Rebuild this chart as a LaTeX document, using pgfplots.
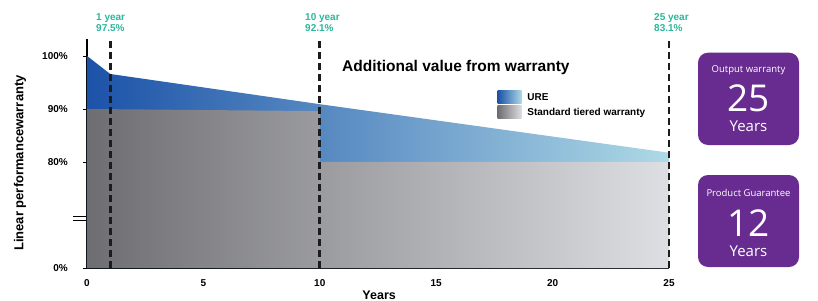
\documentclass[border=0pt]{standalone}
\usepackage{fontspec}
\setmainfont{Liberation Sans}
\newfontfamily\boxfont{Open Sans}
\usepackage{pgfplots}
\pgfplotsset{compat=1.18}

\definecolor{ureL}{RGB}{28,82,168}
\definecolor{ureR}{RGB}{174,217,230}
\definecolor{grL}{RGB}{110,110,114}
\definecolor{grR}{RGB}{222,223,226}
\definecolor{tealc}{RGB}{44,182,155}
\definecolor{purp}{RGB}{104,44,145}
\definecolor{dashc}{RGB}{28,28,28}

\begin{document}
\begin{tikzpicture}
\useasboundingbox (-87pt,-32pt) rectangle (731pt,268pt);
\begin{axis}[
 at={(0pt,0pt)}, anchor=south west,
 scale only axis, width=582pt, height=229pt,
 xmin=0, xmax=25, ymin=60, ymax=103.2,
 axis lines=left,
 axis line style={-, line width=1.8pt, black},
 xtick={0,5,10,15,20,25},
 ytick={60,80,90,100},
 yticklabels={0\%,80\%,90\%,100\%},
 tick align=outside,
 x tick style={draw=none},
 y tick style={line width=0.8pt, black},
 major tick length=4pt,
 tick label style={font=\fontsize{10}{11}\selectfont\bfseries},
 /pgf/number format/assume math mode=true,
 xticklabel style={anchor=north, inner sep=0pt, yshift=-7.5pt},
 yticklabel style={anchor=east, inner sep=0pt, xshift=-15pt},
 xlabel={Years},
 xlabel style={at={(axis description cs:0.502,0)}, anchor=base, yshift=-31pt, font=\fontsize{12.5}{14}\selectfont\bfseries, inner sep=0pt},
 ylabel={Linear performancewarranty},
 ylabel style={at={(axis description cs:-0.1151,0.4585)}, anchor=center, font=\fontsize{13}{15}\selectfont\bfseries, inner sep=0pt},
 clip=false,
 legend style={at={(axis description cs:0.7057,0.773)}, anchor=north west, draw=none, fill=none, inner sep=0pt, outer sep=0pt, row sep=2pt, font=\fontsize{10}{12}\selectfont\bfseries, nodes={inner xsep=5.7pt, inner ysep=0pt, anchor=west}},
 legend cell align=left,
]
\addplot[draw=none, left color=ureL, right color=ureR,
  legend image code/.code={\path[draw=none, left color=ureL, right color=ureR] (0pt,-6.5pt) rectangle (24pt,6.5pt);}]
  coordinates {(0,60) (0,100) (1,96.6) (10,90.9) (25,81.75) (25,60)};
\addlegendentry{URE}
\addplot[draw=none, left color=grL, right color=grR,
  legend image code/.code={\path[draw=none, left color=grL, right color=grR] (0pt,-6.5pt) rectangle (24pt,6.5pt);}]
  coordinates {(0,60) (0,90) (10,89.6) (10,80) (25,80) (25,60)};
\addlegendentry{Standard tiered warranty}
\addplot[forget plot, dashc, line width=2.9pt, dash pattern=on 7pt off 4pt] coordinates {(1,60) (1,103.2)};
\addplot[forget plot, dashc, line width=2.9pt, dash pattern=on 7pt off 4pt] coordinates {(10,60) (10,103.2)};
\addplot[forget plot, dashc, line width=2.9pt, dash pattern=on 7pt off 4pt] coordinates {(25,60) (25,103.2)};
\end{axis}
% axis break mark
\draw[line width=0.9pt] (-14pt,52pt) -- (-1pt,52pt);
\draw[line width=0.9pt] (-14pt,47.7pt) -- (-1pt,47.7pt);
% teal annotations
\begin{scope}[every node/.style={anchor=base west, inner sep=0pt, text=tealc, font=\fontsize{10}{12}\selectfont\bfseries}]
\node at (9pt,247.3pt) {1 year};
\node at (9pt,236.3pt) {97.5\%};
\node at (218pt,247.3pt) {10 year};
\node at (218pt,236.3pt) {92.1\%};
\node at (567pt,247.3pt) {25 year};
\node at (567pt,236.3pt) {83.1\%};
\end{scope}
% title
\node[anchor=base west, inner sep=0pt, font=\fontsize{15.5}{18}\selectfont\bfseries] at (255pt,196pt) {Additional value from warranty};
% purple boxes
\fill[purp, rounded corners=10pt] (611pt,123pt) rectangle (712pt,215.3pt);
\fill[purp, rounded corners=10pt] (611pt,1pt) rectangle (712pt,93pt);
\begin{scope}[every node/.style={anchor=base, inner sep=0pt, text=white}]
\node[font=\boxfont\fontsize{9.5}{11}\selectfont] at (661.5pt,195.3pt) {Output warranty};
\node[font=\boxfont\fontsize{37}{40}\selectfont] at (661.5pt,156.3pt) {25};
\node[font=\boxfont\fontsize{15}{17}\selectfont] at (661.5pt,136.3pt) {Years};
\node[font=\boxfont\fontsize{9.5}{11}\selectfont] at (661.5pt,71.3pt) {Product Guarantee};
\node[font=\boxfont\fontsize{37}{40}\selectfont] at (661.5pt,32pt) {12};
\node[font=\boxfont\fontsize{15}{17}\selectfont] at (661.5pt,12pt) {Years};
\end{scope}
\end{tikzpicture}
\end{document}
